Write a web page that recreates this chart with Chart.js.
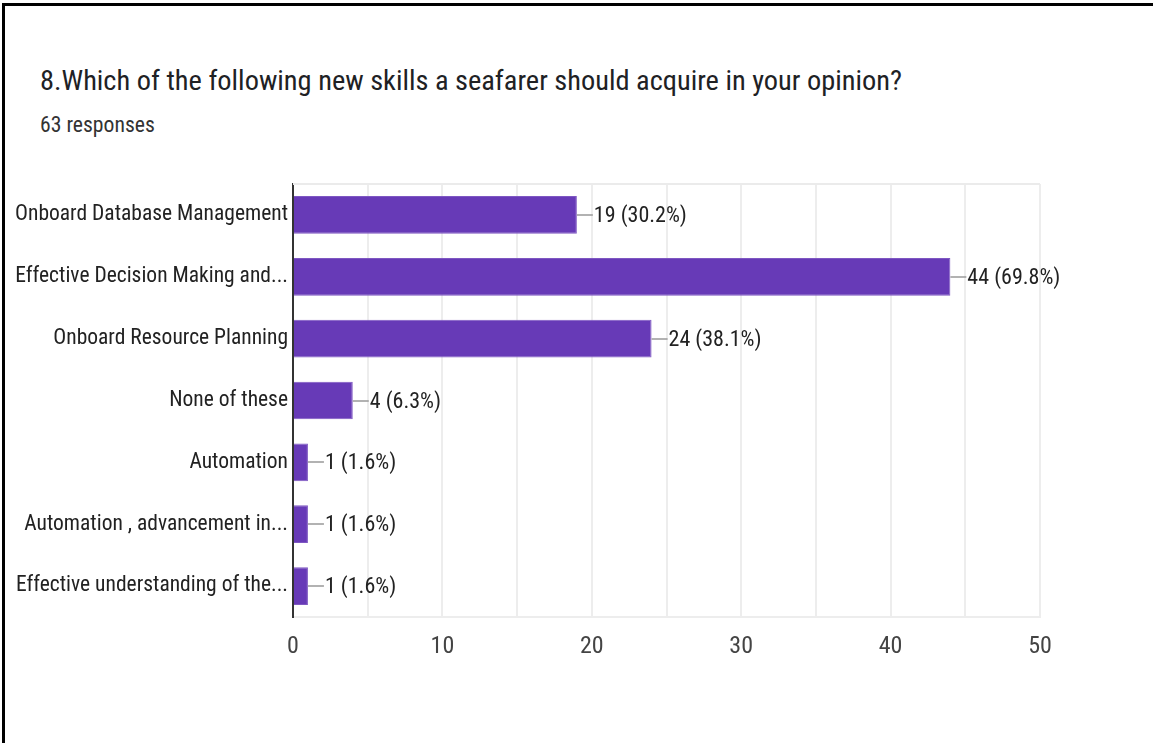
<!DOCTYPE html>
<html>
<head>
<meta charset="utf-8">
<title>New skills for seafarers</title>
<script src="https://cdn.jsdelivr.net/npm/chart.js"></script>
<style>
    html, body { margin: 0; padding: 0; background: #fff; }
    #page { position: relative; width: 1153px; height: 743px; overflow: hidden; }
    #frame {
        position: absolute; left: 2px; top: 3px; right: -10px; bottom: -10px;
        border-top: 3px solid #000; border-left: 3px solid #000;
        pointer-events: none;
    }
    .heading {
        position: absolute; left: 40px; white-space: nowrap;
        font-family: "Liberation Sans Narrow", "Roboto Condensed", Roboto, sans-serif;
        color: #202124;
    }
    #title { top: 64px; font-size: 28.4px; }
    #subtitle { top: 112px; font-size: 21.7px; color: #333; }
    canvas { position: absolute; left: 0; top: 0; }
</style>
</head>
<body>
<div id="page">
    <div id="title" class="heading">8.Which of the following new skills a seafarer should acquire in your opinion?</div>
    <div id="subtitle" class="heading">63 responses</div>
    <canvas id="chart" width="1153" height="743"></canvas>
    <div id="frame"></div>
</div>
<script>
    const FONT = '"Liberation Sans Narrow", "Roboto Condensed", Roboto, sans-serif';

    const skills = [
        'Onboard Database Management',
        'Effective Decision Making and...',
        'Onboard Resource Planning',
        'None of these',
        'Automation',
        'Automation , advancement in...',
        'Effective understanding of the...'
    ];
    const responses = [19, 44, 24, 4, 1, 1, 1];
    const percents = ['30.2%', '69.8%', '38.1%', '6.3%', '1.6%', '1.6%', '1.6%'];
    const axisTicks = [0, 10, 20, 30, 40, 50];

    // light line along the top of the plot area
    const plotFrame = {
        id: 'plotFrame',
        beforeDatasetsDraw(chart) {
            const { ctx, chartArea: a } = chart;
            ctx.save();
            ctx.strokeStyle = '#ebebeb';
            ctx.lineWidth = 2;
            ctx.beginPath();
            ctx.moveTo(a.left, a.top);
            ctx.lineTo(a.right, a.top);
            ctx.stroke();
            ctx.restore();
        }
    };

    // "n (p%)" labels with a short leader line off each bar end
    const barLabels = {
        id: 'barLabels',
        afterDatasetsDraw(chart) {
            const { ctx } = chart;
            const bars = chart.getDatasetMeta(0).data;
            ctx.save();
            ctx.font = '22px ' + FONT;
            ctx.textBaseline = 'middle';
            ctx.fillStyle = '#222';
            bars.forEach((bar, i) => {
                const x = bar.x, y = Math.round(bar.y);
                ctx.strokeStyle = '#999';
                ctx.lineWidth = 1.5;
                ctx.beginPath();
                ctx.moveTo(x, y);
                ctx.lineTo(x + 16, y);
                ctx.stroke();
                ctx.fillText(responses[i] + ' (' + percents[i] + ')', x + 17, y + 1);
            });
            ctx.restore();
        }
    };

    new Chart(document.getElementById('chart').getContext('2d'), {
        type: 'bar',
        data: {
            labels: skills,
            datasets: [{
                data: responses,
                backgroundColor: '#673ab7',
                borderColor: '#7e57c2',
                borderWidth: 1,
                borderSkipped: 'start',
                barPercentage: 0.61,
                categoryPercentage: 1
            }]
        },
        options: {
            indexAxis: 'y',
            responsive: false,
            animation: false,
            layout: { padding: { left: 0, top: 184, right: 113, bottom: 0 } },
            plugins: {
                legend: { display: false },
                tooltip: { enabled: false }
            },
            scales: {
                x: {
                    min: 0,
                    max: 50,
                    afterBuildTicks(scale) {
                        const t = [];
                        for (let v = 0; v <= 50; v += 5) t.push({ value: v });
                        scale.ticks = t;
                    },
                    afterFit(scale) { scale.height = 126; },
                    grid: { color: '#ededed', lineWidth: 2, drawTicks: false },
                    border: { color: '#ededed', width: 2 },
                    ticks: {
                        padding: 16,
                        color: '#444',
                        font: { family: FONT, size: 24 },
                        callback: v => axisTicks.includes(v) ? String(v) : ''
                    }
                },
                y: {
                    afterFit(scale) { scale.width = 293; },
                    grid: { display: false, drawTicks: false },
                    border: { color: '#333', width: 2 },
                    ticks: {
                        padding: 5,
                        color: '#222',
                        font: { family: FONT, size: 21.5 }
                    }
                }
            }
        },
        plugins: [plotFrame, barLabels]
    });
</script>
</body>
</html>
